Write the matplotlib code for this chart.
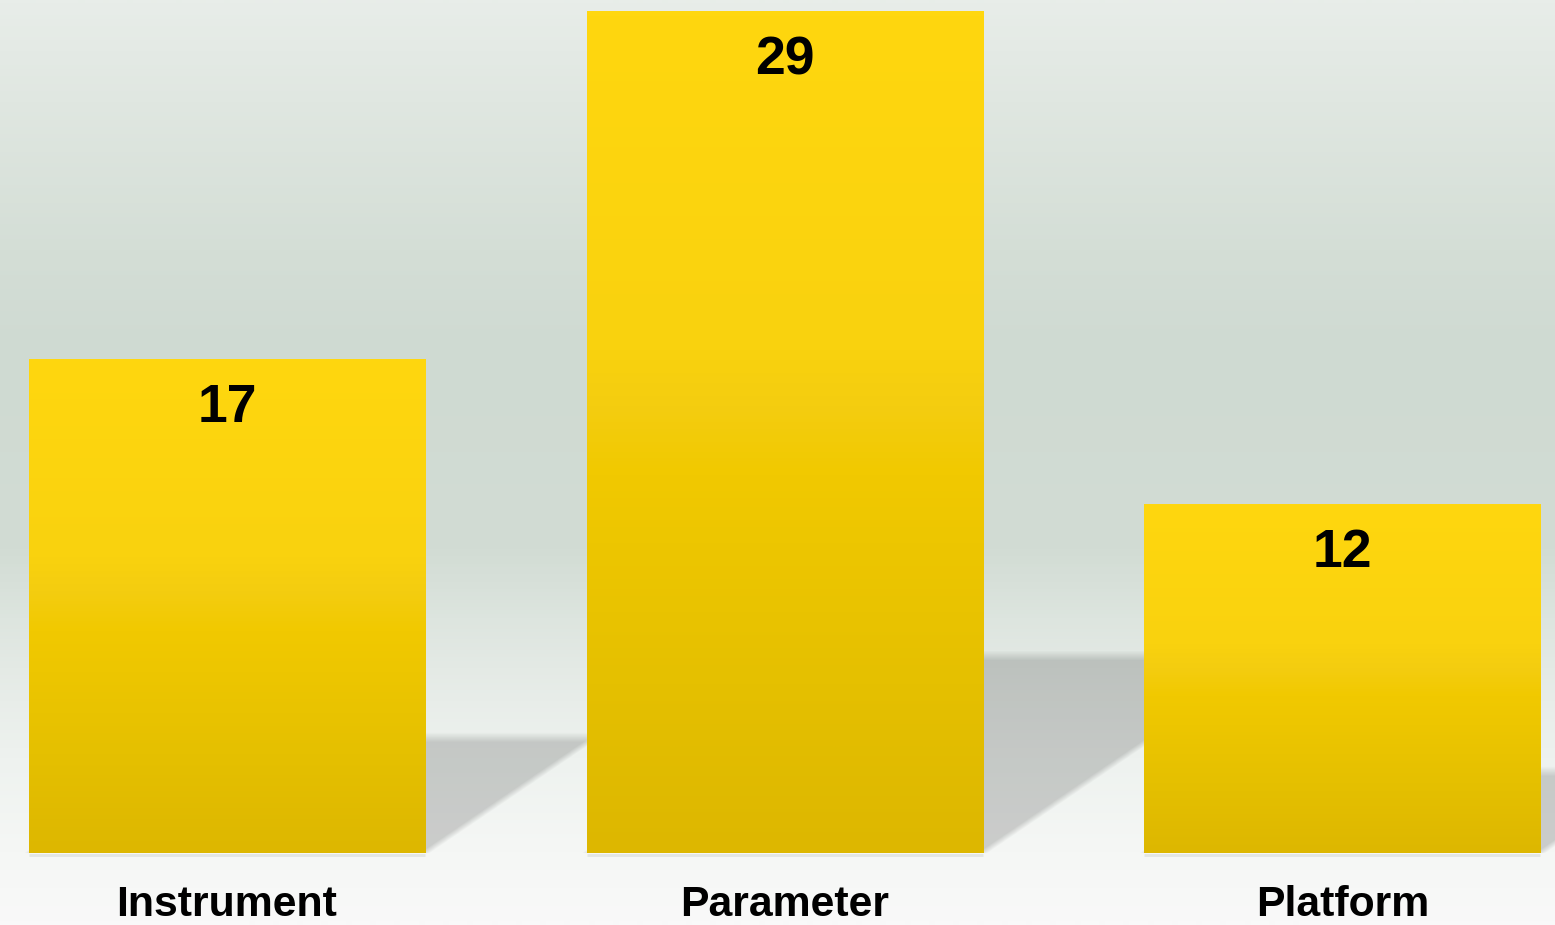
import numpy as np
import matplotlib
matplotlib.use('Agg')
import matplotlib.pyplot as plt
from matplotlib.colors import LinearSegmentedColormap
from matplotlib.transforms import blended_transform_factory

categories = ['Instrument', 'Parameter', 'Platform']
counts = [17, 29, 12]

W, H, DPI = 1555, 925, 100
BASE_PX = 853            # pixel row of the bar baseline (from top)
BAR_WIDTH = 0.71
XLIM = (-0.407, 2.381)
YLIM = (0, 29.41)
SHADOW_FRAC = 0.235      # shadow height relative to bar height
SHADOW_SLOPE = 0.68      # dy/dx of the shadow's slanted edge (pixels)
SHADOW_ALPHA = 0.17
FONT = 'Liberation Sans'

# background gradient, position = fraction from top of figure
BG_STOPS = [(0.0, '#e8ede9'), (0.108, '#e0e7e1'), (0.27, '#d4ded6'),
            (0.378, '#cfdad2'), (0.595, '#d2dcd4'), (0.67, '#dde5df'),
            (0.757, '#e8ede9'), (0.822, '#eef2ef'), (0.922, '#f5f7f5'),
            (1.0, '#f9f9f9')]

# bar gradient, position = fraction from top of bar
BAR_STOPS = [(0.0, '#ffd70f'), (0.4, '#f9d20e'), (0.47, '#f4cd10'),
             (0.55, '#f1c900'), (0.8, '#e5c000'), (1.0, '#ddb700')]


def draw_background(fig):
    bg = fig.add_axes([0, 0, 1, 1], zorder=0)
    cmap = LinearSegmentedColormap.from_list('bg', BG_STOPS)
    grad = np.linspace(0, 1, H).reshape(-1, 1)
    bg.imshow(grad, cmap=cmap, aspect='auto', extent=(0, 1, 0, 1),
              origin='upper', interpolation='bilinear')
    bg.set_axis_off()


def shadow_layer(x, values):
    # soft slanted shadow behind each bar, computed on a pixel grid
    nx, ny = W, BASE_PX
    ppx = W / (XLIM[1] - XLIM[0])
    ppy = BASE_PX / (YLIM[1] - YLIM[0])
    X = np.arange(nx) + 0.5
    Y = np.arange(ny) + 0.5
    Xp, Yp = np.meshgrid(X, Y)
    k = SHADOW_SLOPE / np.sqrt(1 + SHADOW_SLOPE ** 2)
    alpha = np.zeros_like(Xp)
    for xi, v in zip(x, values):
        xl = (xi - BAR_WIDTH / 2 - XLIM[0]) * ppx
        xr = (xi + BAR_WIDTH / 2 - XLIM[0]) * ppx
        hs = SHADOW_FRAC * v * ppy
        shift = Yp / SHADOW_SLOPE
        a_top = np.clip((hs - Yp) / 10 + 0.5, 0, 1)
        a_r = np.clip((xr + shift - Xp) * k / 6 + 0.5, 0, 1)
        a_l = np.clip((Xp - xl - shift) * k / 6 + 0.5, 0, 1)
        alpha = np.maximum(alpha, a_top * a_r * a_l)
    rgba = np.zeros((ny, nx, 4))
    rgba[..., 3] = alpha * SHADOW_ALPHA
    return rgba


fig = plt.figure(figsize=(W / DPI, H / DPI), dpi=DPI)
draw_background(fig)

ax = fig.add_axes([0, 1 - BASE_PX / H, 1, BASE_PX / H], zorder=1)
ax.patch.set_visible(False)

x = np.arange(len(categories))

ax.imshow(shadow_layer(x, counts), extent=(XLIM[0], XLIM[1], YLIM[0], YLIM[1]),
          origin='lower', aspect='auto', zorder=1, interpolation='bilinear')

bars = ax.bar(x, counts, width=BAR_WIDTH, color='none', edgecolor='none', zorder=3)
bar_cmap = LinearSegmentedColormap.from_list('bar', BAR_STOPS)
grad = np.linspace(0, 1, 256).reshape(-1, 1)
for b in bars:
    xl, w, h = b.get_x(), b.get_width(), b.get_height()
    ax.imshow(grad, cmap=bar_cmap, extent=(xl, xl + w, 0, h), origin='upper',
              aspect='auto', zorder=3, interpolation='bilinear')
    # faint ground line under the bar
    ax.plot([xl, xl + w], [-0.06, -0.06], color='#e3e6e3', lw=2,
            solid_capstyle='butt', clip_on=False, zorder=2)

for xi, v in zip(x, counts):
    ax.annotate(str(v), xy=(xi, v), xytext=(0, -45), textcoords='offset points',
                ha='center', va='baseline', fontsize=38.5, fontweight='bold',
                family=FONT, color='black', zorder=5)

trans = blended_transform_factory(ax.transData, fig.transFigure)
for xi, cat in zip(x, categories):
    ax.text(xi, 9 / H, cat, transform=trans, ha='center', va='baseline',
            fontsize=30.8, fontweight='bold', family=FONT, color='black',
            clip_on=False)

ax.set_xlim(*XLIM)
ax.set_ylim(*YLIM)
ax.set_axis_off()

fig.savefig('out.png', dpi=DPI)
